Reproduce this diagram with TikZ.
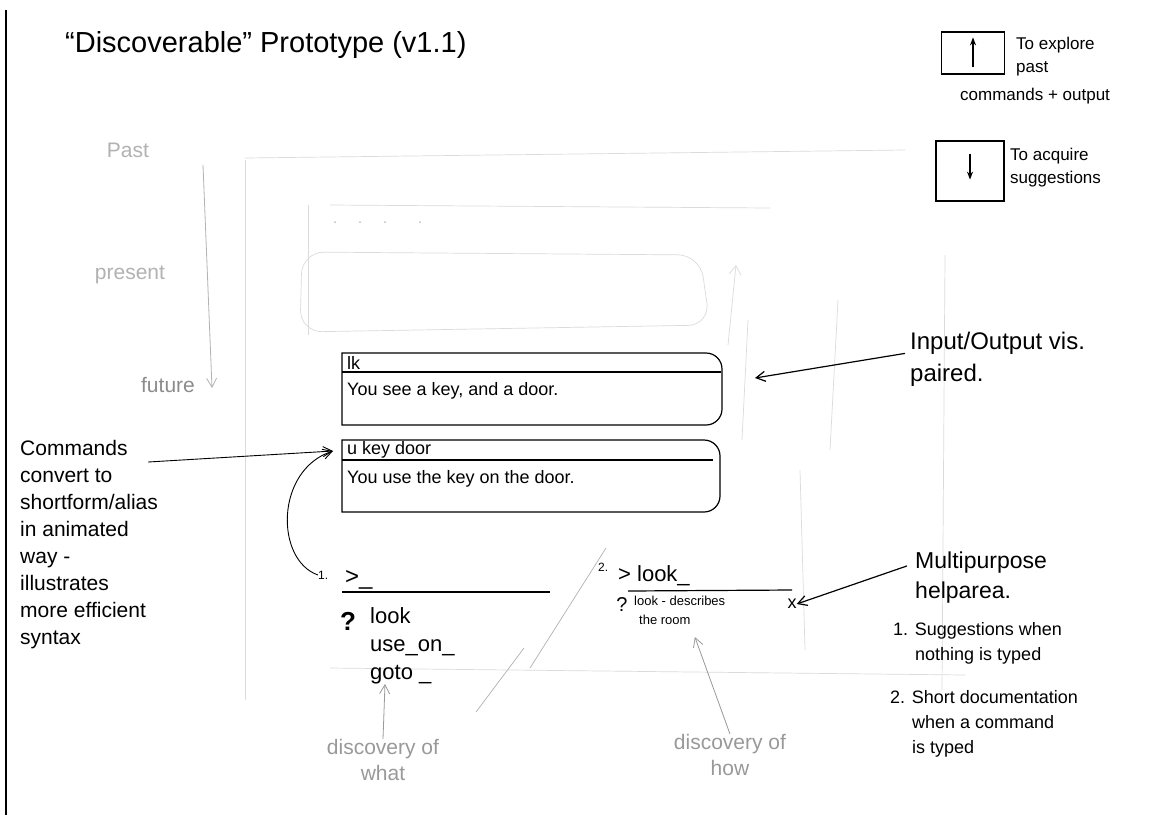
\documentclass[tikz,border=0pt]{standalone}
\usepackage{fontspec}
\setmainfont{Liberation Sans}
\usetikzlibrary{arrows.meta}
\tikzset{
  ink/.style={black, line width=1.2pt},
  pencil/.style={black!40, line width=0.8pt},
  faint/.style={black!14, line width=0.7pt},
  tip/.style={-{Straight Barb[length=9pt,width=10pt]}},
  hand/.style={inner sep=0pt, align=left, anchor=north west},
  bigtext/.style={hand, font=\fontsize{29}{34}\selectfont},
  midtext/.style={hand, font=\fontsize{21}{27}\selectfont},
  smalltext/.style={hand, font=\fontsize{17}{23}\selectfont},
  boxtext/.style={inner sep=0pt, anchor=west, font=\fontsize{18}{22}\selectfont},
  greytext/.style={hand, text=black!40, font=\fontsize{21}{26}\selectfont},
  legendbox/.style={draw, ink, inner sep=0pt}
}
\begin{document}
\begin{tikzpicture}[x=1pt,y=-1pt]
\useasboundingbox (0,0) rectangle (1151,815);
\fill[white] (0,0) rectangle (1151,815);
\draw[black, line width=1.6pt] (6,10) -- (6,815);

% title
\node[bigtext, anchor=west] (title) at (65,45) {``Discoverable'' Prototype (v1.1)};

% legend
\node[legendbox, minimum width=63pt, minimum height=42pt] (upbox) at (973,53) {};
\draw[ink, -{Stealth[length=8pt]}] ([yshift=8pt]upbox.south) -- ([yshift=-6pt]upbox.north);
\node[smalltext] (explore) at (1016,37) {To explore\\past};
\node[smalltext, anchor=west] (pastout) at (960,96) {commands + output};
\node[legendbox, minimum width=68pt, minimum height=60pt] (downbox) at (970,171) {};
\draw[ink, -{Stealth[length=8pt]}] ([yshift=-14pt]downbox.north) -- ([yshift=22pt]downbox.south);
\node[smalltext] (acquire) at (1010,148) {To acquire\\suggestions};

% faint window sketch
\draw[faint] (245,160) -- (245,700);
\draw[faint] (245,158) -- (905,150);
\draw[faint] (945,255) -- (942,690);
\draw[faint] (330,668) -- (965,675);
\draw[faint] (308,205) -- (308,335);
\draw[faint] (330,205) -- (770,208);
\foreach \dx in {335,360,385,420} \fill[black!25] (\dx,222) circle (1pt);
\draw[faint, rounded corners=22pt] (302,252) -- (700,255) -- (710,325) -- (300,332) -- cycle;
\draw[faint] (748,320) -- (742,440);
\draw[faint] (838,300) -- (830,450);
\draw[faint] (800,470) -- (805,650);
\coordinate (upfrom) at (728,345);
\coordinate (upto) at (736,265);
\draw[faint, -{Straight Barb[length=9pt,width=12pt]}] (upfrom) -- (upto);

% time axis
\node[greytext, anchor=center, text=black!30] (past) at (128,150) {Past};
\node[greytext, anchor=center, text=black!30] (present) at (130,275) {present};
\node[greytext, anchor=center, text=black!45] (future) at (168,385) {future};
\coordinate (timetop) at (203,165);
\coordinate (timeend) at (212,388);
\draw[black!30, line width=0.8pt, tip] (timetop) -- (timeend);

% paired input/output blocks
\draw[ink] (342,353) [rounded corners=16pt] -- (722,353) -- (722,425) [sharp corners] -- (342,425) -- cycle;
\draw[ink] (342,372) -- (721,372);
\node[boxtext] (inA) at (347,363) {lk};
\node[boxtext] (outA) at (347,391) {You see a key, and a door.};
\draw[ink] (342,440) [rounded corners=16pt] -- (720,440) -- (720,512) [sharp corners] -- (342,512) -- cycle;
\draw[ink] (342,460) -- (713,460);
\node[boxtext] (inB) at (347,450) {u key door};
\node[boxtext] (outB) at (347,479) {You use the key on the door.};
\coordinate (cmdtip) at (333,451);
\coordinate (iotip) at (755,378);

% prompts
\node[boxtext, font=\fontsize{12}{14}\selectfont] (one) at (318,575) {1.};
\node[boxtext, font=\fontsize{24}{28}\selectfont] (promptA) at (345,580) {>\_};
\draw[ink] (342,592) -- (550,592);
\node[inner sep=0pt, font=\bfseries\fontsize{26}{30}\selectfont] (qA) at (348,621) {?};
\node[hand, font=\fontsize{22}{28}\selectfont] (listA) at (370,607) {look\\use\_on\_\\goto \_};
\node[boxtext, font=\fontsize{12}{14}\selectfont] (two) at (598,567) {2.};
\node[boxtext, font=\fontsize{22}{26}\selectfont] (promptB) at (618,576) {> look\_};
\draw[ink] (628,591) -- (792,590);
\node[inner sep=0pt, font=\fontsize{20}{24}\selectfont] (qB) at (622,605) {?};
\node[boxtext, font=\fontsize{13}{14}\selectfont] (docB) at (634,601) {look - describes};
\node[boxtext, font=\fontsize{13}{14}\selectfont] (roomB) at (639,620) {the room};
\node[inner sep=0pt, font=\fontsize{18}{20}\selectfont] (closeB) at (792,604) {x};

% annotations
\node[hand, font=\fontsize{24}{32}\selectfont] (iotext) at (910,332) {Input/Output vis.\\paired.};
\draw[ink, tip] ([xshift=-5pt, yshift=6pt]iotext.west) -- (iotip);
\node[midtext] (cmdtext) at (20,440) {Commands\\convert to\\shortform/alias\\in animated\\way -\\illustrates\\more efficient\\syntax};
\draw[ink, line width=0.9pt, tip] ([shift={(-10pt,-22pt)}]cmdtext.north east) -- (cmdtip);
\draw[ink, line width=0.9pt, tip] (one.west) .. controls (275,560) and (275,470) .. (cmdtip);
\node[hand, font=\fontsize{23}{30}\selectfont] (mptext) at (915,552) {Multipurpose\\helparea.};
\draw[ink, tip] ([shift={(-8pt,12pt)}]mptext.west) -- (closeB.east);
\node[hand, font=\fontsize{18}{25}\selectfont] (helpone) at (893,622) {1. Suggestions when\\\hspace*{22pt}nothing is typed};
\node[hand, font=\fontsize{18}{25}\selectfont] (helptwo) at (890,690) {2. Short documentation\\\hspace*{22pt}when a command\\\hspace*{22pt}is typed};

% discovery notes
\node[greytext, align=center, anchor=center] (what) at (383,760) {discovery of\\what};
\draw[pencil, tip] (what.north) -- (listA.south west -| 385,680);
\draw[faint, black!30] (476,712) -- (524,648);
\draw[faint, black!30] (530,668) -- (606,548);
\node[greytext, align=center, anchor=center] (how) at (730,755) {discovery of\\how};
\draw[pencil, tip] (how.north) -- ([shift={(30pt,-12pt)}]roomB.south);
\end{tikzpicture}
\end{document}
